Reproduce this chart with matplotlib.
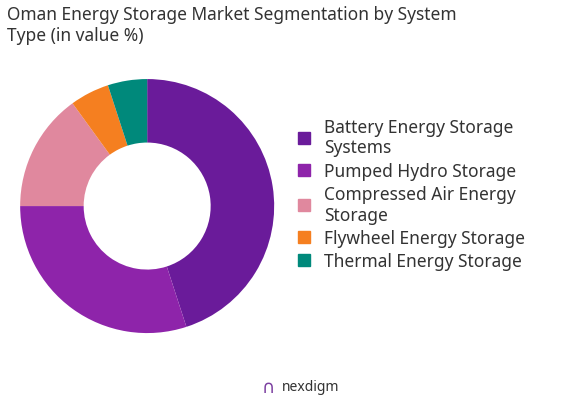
import matplotlib.pyplot as plt

labels = ["Battery Energy Storage\nSystems", "Pumped Hydro Storage",
          "Compressed Air Energy\nStorage", "Flywheel Energy Storage",
          "Thermal Energy Storage"]
values = [45, 30, 15, 5, 5]
colors = ["#6a1b9a", "#8e24aa", "#e0889e", "#f57f20", "#00897b"]

plt.rcParams['font.family'] = ['Noto Sans', 'DejaVu Sans']
fig = plt.figure(figsize=(5.76, 4.06), dpi=100)
ax = fig.add_axes([0.035, 0.177, 0.441, 0.626])
ax.pie(values, colors=colors, startangle=90, counterclock=False,
       wedgeprops=dict(width=0.5, edgecolor="none"))
ax.set_xlim(-1, 1)
ax.set_ylim(-1, 1)
ax.set_aspect("equal")

fig.text(0.012, 0.985, "Oman Energy Storage Market Segmentation by System\nType (in value %)",
         ha="left", va="top", fontsize=12.5, color="#333333", linespacing=1.2)

handles = [plt.Rectangle((0, 0), 1, 1, color=c) for c in colors]
fig.legend(handles, labels, loc="center left", bbox_to_anchor=(0.49, 0.52),
           frameon=False, fontsize=12.5, handlelength=0.7, handleheight=0.7,
           handletextpad=0.8, labelspacing=0.3, labelcolor="#333333")

fig.text(0.49, 0.045, "nexdigm", ha="left", va="center", fontsize=10, color="#333333")
fig.text(0.465, 0.045, "\u2229", ha="center", va="center", fontsize=13, color="#7b3fa0")

fig.savefig("out.png", dpi=100)
